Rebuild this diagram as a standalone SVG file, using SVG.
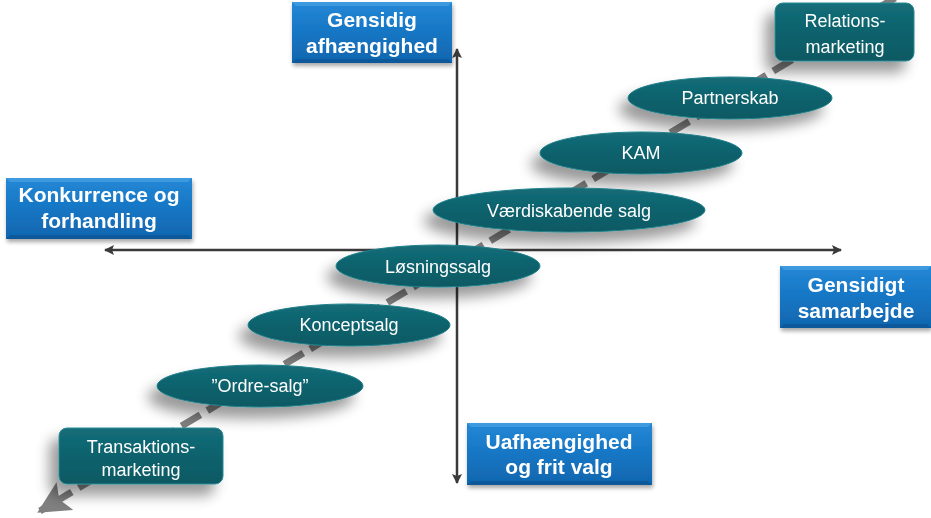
<svg xmlns="http://www.w3.org/2000/svg" width="931" height="518" viewBox="0 0 931 518">
  <defs>
    <linearGradient id="blueFill" x1="0" y1="0" x2="0" y2="1">
      <stop offset="0" stop-color="#2488d6"/>
      <stop offset="0.5" stop-color="#1676c4"/>
      <stop offset="1" stop-color="#1066ae"/>
    </linearGradient>
    <linearGradient id="tealFill" x1="0" y1="0" x2="0" y2="1">
      <stop offset="0" stop-color="#146d78"/>
      <stop offset="0.5" stop-color="#0c626d"/>
      <stop offset="1" stop-color="#0a5963"/>
    </linearGradient>
    <filter id="shadow" x="-30%" y="-50%" width="160%" height="220%">
      <feGaussianBlur in="SourceAlpha" stdDeviation="7"/>
      <feOffset dx="-9" dy="11" result="blur"/>
      <feComponentTransfer>
        <feFuncA type="linear" slope="0.4"/>
      </feComponentTransfer>
      <feMerge>
        <feMergeNode/>
        <feMergeNode in="SourceGraphic"/>
      </feMerge>
    </filter>
    <filter id="boxShadow" x="-10%" y="-20%" width="125%" height="150%">
      <feGaussianBlur in="SourceAlpha" stdDeviation="2"/>
      <feOffset dx="1" dy="3"/>
      <feComponentTransfer>
        <feFuncA type="linear" slope="0.35"/>
      </feComponentTransfer>
      <feMerge>
        <feMergeNode/>
        <feMergeNode in="SourceGraphic"/>
      </feMerge>
    </filter>
    <marker id="axisHead" viewBox="0 0 10 10" refX="9" refY="5" markerWidth="4" markerHeight="4" orient="auto-start-reverse" markerUnits="strokeWidth">
      <path d="M0,0 L10,5 L0,10 L2,5 Z" fill="#3a3a3a"/>
    </marker>
    <marker id="diagHead" viewBox="0 0 10 10" refX="9" refY="5" markerWidth="4.6" markerHeight="4.6" orient="auto" markerUnits="strokeWidth">
      <path d="M0,0 L10,5 L0,10 L2,5 Z" fill="#808080"/>
    </marker>
    <style>
      .axis { stroke: #3a3a3a; stroke-width: 2.5; fill: none; }
      .diag { stroke: #808080; stroke-width: 7; fill: none; stroke-dasharray: 22 8; }
      .bluebox rect.body { fill: url(#blueFill); }
      .bluebox .bevelTop { fill: #5aaeea; opacity: 0.5; }
      .bluebox .bevelBottom { fill: #0a4f8c; opacity: 0.6; }
      .bluebox text { font-family: "Liberation Sans", Arial, sans-serif; font-weight: bold; font-size: 21px; fill: #ffffff; text-anchor: middle; }
      .tealbox rect { fill: url(#tealFill); stroke: #2a8a95; stroke-width: 1; }
      .tealbox text, .oval text { font-family: "Liberation Sans", Arial, sans-serif; font-size: 18px; fill: #ffffff; text-anchor: middle; }
      .oval ellipse { fill: url(#tealFill); stroke: #1f7f8a; stroke-width: 1; }
    </style>
  </defs>

  <!-- connectors: diagonal progression arrow and the two axes -->
  <g id="connectors">
    <line class="diag" x1="895" y1="-2" x2="40" y2="511" marker-end="url(#diagHead)"/>
    <line class="axis" x1="105" y1="250" x2="841" y2="250" marker-start="url(#axisHead)" marker-end="url(#axisHead)"/>
    <line class="axis" x1="457" y1="49" x2="457" y2="483" marker-start="url(#axisHead)" marker-end="url(#axisHead)"/>
  </g>

  <!-- axis labels -->
  <g id="gensidig-afhaengighed" class="bluebox" filter="url(#boxShadow)">
    <rect class="body" x="292" y="2" width="160" height="61"/>
    <polygon class="bevelTop" points="292,2 452,2 448,6 296,6"/>
    <polygon class="bevelBottom" points="292,63 452,63 448,59 296,59"/>
    <text x="372" y="27">Gensidig</text>
    <text x="372" y="53">afhængighed</text>
  </g>
  <g id="konkurrence-forhandling" class="bluebox" filter="url(#boxShadow)">
    <rect class="body" x="6" y="178" width="186" height="61"/>
    <polygon class="bevelTop" points="6,178 192,178 188,182 10,182"/>
    <polygon class="bevelBottom" points="6,239 192,239 188,235 10,235"/>
    <text x="99" y="202">Konkurrence og</text>
    <text x="99" y="228">forhandling</text>
  </g>
  <g id="gensidigt-samarbejde" class="bluebox" filter="url(#boxShadow)">
    <rect class="body" x="780" y="266" width="151" height="62"/>
    <polygon class="bevelTop" points="780,266 931,266 927,270 784,270"/>
    <polygon class="bevelBottom" points="780,328 931,328 927,324 784,324"/>
    <text x="856" y="292">Gensidigt</text>
    <text x="856" y="318">samarbejde</text>
  </g>
  <g id="uafhaengighed-frit-valg" class="bluebox" filter="url(#boxShadow)">
    <rect class="body" x="467" y="423" width="185" height="62"/>
    <polygon class="bevelTop" points="467,423 652,423 648,427 471,427"/>
    <polygon class="bevelBottom" points="467,485 652,485 648,481 471,481"/>
    <text x="559" y="449">Uafhængighed</text>
    <text x="559" y="474">og frit valg</text>
  </g>

  <!-- endpoints of the progression -->
  <g id="relationsmarketing" class="tealbox" filter="url(#shadow)">
    <rect x="775" y="3" width="139" height="58" rx="8"/>
    <text x="845" y="27">Relations-</text>
    <text x="845" y="53">marketing</text>
  </g>
  <g id="transaktionsmarketing" class="tealbox" filter="url(#shadow)">
    <rect x="59" y="428" width="164" height="56" rx="8"/>
    <text x="141" y="453">Transaktions-</text>
    <text x="141" y="476">marketing</text>
  </g>

  <!-- sales stages -->
  <g id="partnerskab" class="oval" filter="url(#shadow)">
    <ellipse cx="730" cy="98" rx="102" ry="21"/>
    <text x="730" y="104">Partnerskab</text>
  </g>
  <g id="kam" class="oval" filter="url(#shadow)">
    <ellipse cx="641" cy="153" rx="101" ry="21"/>
    <text x="641" y="159">KAM</text>
  </g>
  <g id="vaerdiskabende-salg" class="oval" filter="url(#shadow)">
    <ellipse cx="569" cy="210" rx="136" ry="22"/>
    <text x="569" y="217">Værdiskabende salg</text>
  </g>
  <g id="loesningssalg" class="oval" filter="url(#shadow)">
    <ellipse cx="438" cy="266" rx="102" ry="21"/>
    <text x="438" y="273">Løsningssalg</text>
  </g>
  <g id="konceptsalg" class="oval" filter="url(#shadow)">
    <ellipse cx="349" cy="325" rx="101" ry="21"/>
    <text x="349" y="331">Konceptsalg</text>
  </g>
  <g id="ordre-salg" class="oval" filter="url(#shadow)">
    <ellipse cx="260" cy="386" rx="103" ry="21"/>
    <text x="260" y="392">”Ordre-salg”</text>
  </g>
</svg>
